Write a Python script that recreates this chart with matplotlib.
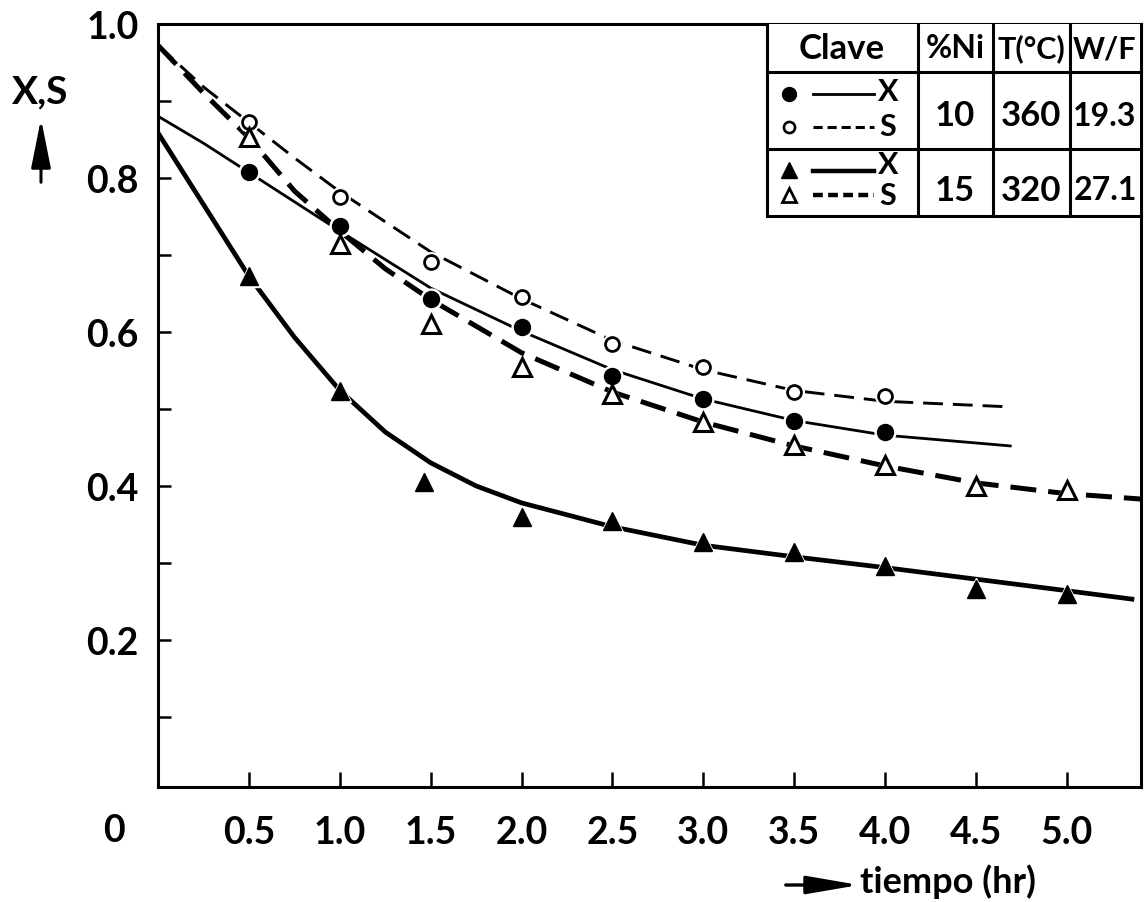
import matplotlib
matplotlib.use("Agg")
import matplotlib.pyplot as plt
from matplotlib.lines import Line2D
from matplotlib.patches import FancyArrowPatch, ArrowStyle, Rectangle

plt.rcParams['font.family'] = ['Lato', 'DejaVu Sans']
plt.rcParams['font.weight'] = 'bold'

# ---------------- data ----------------
# measured points
t_circ = [0.5, 1.0, 1.5, 2.0, 2.5, 3.0, 3.5, 4.0]
x_10 = [0.808, 0.738, 0.643, 0.606, 0.543, 0.513, 0.484, 0.470]   # filled circles (X)
s_10 = [0.873, 0.775, 0.691, 0.645, 0.584, 0.555, 0.522, 0.517]   # open circles (S)

t_ftri = [0.5, 1.0, 1.46, 2.0, 2.5, 3.0, 3.5, 4.0, 4.5, 5.0]
x_15 = [0.673, 0.523, 0.405, 0.360, 0.355, 0.327, 0.314, 0.296, 0.266, 0.260]  # filled triangles (X)
t_otri = [0.5, 1.0, 1.5, 2.0, 2.5, 3.0, 3.5, 4.0, 4.5, 5.0]
s_15 = [0.853, 0.714, 0.610, 0.555, 0.519, 0.483, 0.453, 0.427, 0.400, 0.395]  # open triangles (S)

# fitted curves
ct_s10 = [0, 0.25, 0.5, 0.75, 1.0, 1.5, 2.0, 2.5, 3.0, 3.5, 4.0, 4.66]
cy_s10 = [0.972, 0.918, 0.872, 0.826, 0.782, 0.704, 0.643, 0.589, 0.551, 0.524, 0.510, 0.503]

ct_x10 = [0, 0.25, 0.5, 0.75, 1.0, 1.5, 2.0, 2.5, 3.0, 3.5, 4.0, 4.69]
cy_x10 = [0.880, 0.845, 0.807, 0.769, 0.731, 0.657, 0.601, 0.551, 0.513, 0.485, 0.466, 0.452]

ct_s15 = [0, 0.25, 0.5, 0.75, 1.0, 1.25, 1.5, 2.0, 2.5, 3.0, 3.5, 4.0, 4.5, 5.0, 5.41]
cy_s15 = [0.972, 0.910, 0.852, 0.783, 0.731, 0.682, 0.642, 0.573, 0.522, 0.483, 0.452, 0.426, 0.404, 0.390, 0.383]

ct_x15 = [0, 0.25, 0.5, 0.75, 1.0, 1.25, 1.5, 1.75, 2.0, 2.5, 3.0, 3.5, 4.0, 4.5, 5.0, 5.36]
cy_x15 = [0.858, 0.765, 0.672, 0.593, 0.524, 0.470, 0.430, 0.400, 0.378, 0.347, 0.323, 0.308, 0.294, 0.279, 0.264, 0.253]

xtick_vals = [0.5, 1.0, 1.5, 2.0, 2.5, 3.0, 3.5, 4.0, 4.5, 5.0]
xtick_labels = ['0.5', '1.0', '1.5', '2.0', '2.5', '3.0', '3.5', '4.0', '4.5', '5.0']
ytick_vals = [0.2, 0.4, 0.6, 0.8, 1.0]
ytick_labels = ['0.2', '0.4', '0.6', '0.8', '1.0']
yminor_vals = [0.1, 0.3, 0.5, 0.7, 0.9]

table_header = ['Clave', '%Ni', 'T(°C)', 'W/F']
row_ni = ['10', '15']
row_T = ['360', '320']
row_WF = ['19.3', '27.1']

# ---------------- figure ----------------
W, H = 1146, 903
fig = plt.figure(figsize=(W / 100, H / 100), dpi=100)
L, R, B, T = 158.3, 1141, 788, 25
ax = fig.add_axes([L / W, 1 - B / H, (R - L) / W, (B - T) / H])
ax.set_xlim(0, 5.41)
ax.set_ylim(0.009, 1.0)

for sp in ax.spines.values():
    sp.set_linewidth(2.2)

ax.set_xticks(xtick_vals)
ax.set_xticklabels(xtick_labels, fontsize=27, fontweight='bold')
ax.set_yticks(ytick_vals)
ax.set_yticklabels(ytick_labels, fontsize=27, fontweight='bold')
ax.set_yticks(yminor_vals, minor=True)
ax.tick_params(axis='x', direction='in', length=11, width=1.8, pad=20)
ax.tick_params(axis='y', which='both', direction='in', length=9.5, width=1.8, pad=14)
ax.tick_params(axis='x', which='minor', length=0)

def px(x):
    return (x - L) / (R - L)

def py(y):
    return (B - y) / (B - T)

# curves
ax.plot(ct_s10, cy_s10, color='black', lw=2.1, dashes=(6.8, 3.4), dash_capstyle='butt', zorder=2)
ax.plot(ct_x10, cy_x10, color='black', lw=2.0, zorder=2)
ax.plot(ct_s15, cy_s15, color='black', lw=3.6, dashes=(5.2, 2.4), dash_capstyle='butt', zorder=2)
ax.plot(ct_x15, cy_x15, color='black', lw=3.4, zorder=2)

# white halos around markers (gaps in curves)
ax.plot(t_circ, s_10, 'o', ms=14, color='white', zorder=3)
ax.plot(t_circ, x_10, 'o', ms=15, color='white', zorder=3)
ax.plot(t_ftri, x_15, '^', ms=16, color='white', zorder=3)
ax.plot(t_otri, s_15, '^', ms=16, color='white', zorder=3)

# markers
ax.plot(t_circ, s_10, 'o', ms=10, mfc='white', mec='black', mew=2.0, zorder=4)
ax.plot(t_circ, x_10, 'o', ms=11.5, color='black', zorder=4)
ax.plot(t_ftri, x_15, '^', ms=13, color='black', zorder=4)
ax.plot(t_otri, s_15, '^', ms=12.5, mfc='white', mec='black', mew=2.2, zorder=4)

# origin label "0"
ax.text(px(114), py(831), '0', transform=ax.transAxes, fontsize=27, fontweight='bold',
        ha='center', va='center', clip_on=False)

# ---------------- legend table ----------------
tr = ax.transAxes
lw_t = 2.2
xl, xc1, xc2, xc3, xr = px(767), px(918), px(993), px(1070), 1.0
yt, yh, y1, yb = 1.0, py(73), py(150), py(217)

def seg(x0, y0, x1, y1_, lw=lw_t):
    ax.add_line(Line2D([x0, x1], [y0, y1_], transform=tr, color='black', lw=lw,
                       clip_on=False, zorder=5, solid_capstyle='projecting'))

ax.add_patch(Rectangle((xl, yb), xr - xl, yt - yb, transform=tr, facecolor='white',
                       edgecolor='none', zorder=4.5, clip_on=False))
seg(xl, yt, xl, yb)
seg(xl, yb, xr, yb)
seg(xl, yh, xr, yh)
seg(xl, y1, xr, y1)
for xx in (xc1, xc2, xc3):
    seg(xx, yt, xx, yb)
seg(xr, yt, xr, yb)

col_c = [px(842), px(955), px(1031), px(1105)]
head_sizes = [25, 23, 22, 22]
for c, txt, fs in zip(col_c, table_header, head_sizes):
    ax.text(c, py(49), txt, transform=tr, fontsize=fs, fontweight='bold',
            ha='center', va='center', zorder=6)
for ri, yy in enumerate([py(116), py(191)]):
    ax.text(col_c[1], yy, row_ni[ri], transform=tr, fontsize=25, fontweight='bold', ha='center', va='center', zorder=6)
    ax.text(col_c[2], yy, row_T[ri], transform=tr, fontsize=25, fontweight='bold', ha='center', va='center', zorder=6)
    ax.text(col_c[3], yy, row_WF[ri], transform=tr, fontsize=23, fontweight='bold', ha='center', va='center', zorder=6)

# clave symbols
mx = px(789)
lx0, lx1 = px(813), px(874)
ax.add_line(Line2D([mx], [py(95)], transform=tr, marker='o', ms=10, color='black', ls='none', clip_on=False, zorder=6))
ax.add_line(Line2D([lx0, lx1], [py(95), py(95)], transform=tr, color='black', lw=2.0, clip_on=False, zorder=6))
ax.add_line(Line2D([mx], [py(128)], transform=tr, marker='o', ms=8, mfc='white', mec='black', mew=1.9, ls='none', clip_on=False, zorder=6))
ax.add_line(Line2D([lx0, lx1], [py(128), py(128)], transform=tr, color='black', lw=2.2, dashes=(3.0, 1.6), clip_on=False, zorder=6))
ax.add_line(Line2D([mx], [py(171)], transform=tr, marker='^', ms=11, color='black', ls='none', clip_on=False, zorder=6))
ax.add_line(Line2D([lx0, lx1], [py(172), py(172)], transform=tr, color='black', lw=3.2, clip_on=False, zorder=6))
ax.add_line(Line2D([mx], [py(196)], transform=tr, marker='^', ms=10, mfc='white', mec='black', mew=2.0, ls='none', clip_on=False, zorder=6))
ax.add_line(Line2D([lx0, lx1], [py(196), py(196)], transform=tr, color='black', lw=3.2, dashes=(2.2, 1.2), clip_on=False, zorder=6))
for yy, s in [(92, 'X'), (127, 'S'), (165, 'X'), (196, 'S')]:
    ax.text(px(888), py(yy), s, transform=tr, fontsize=22, fontweight='bold', ha='center', va='center', zorder=6)

# ---------------- axis labels with arrows ----------------
fig.text(12 / W, 1 - 103 / H, 'X,S', fontsize=28, fontweight='bold', ha='left', va='baseline')
fig.patches.append(FancyArrowPatch((41 / W, 1 - 186 / H), (41 / W, 1 - 117 / H), transform=fig.transFigure,
                                   arrowstyle=ArrowStyle('-|>', head_length=30, head_width=6),
                                   mutation_scale=1, color='black', lw=2.2))
fig.text(860 / W, 1 - 893 / H, 'tiempo (hr)', fontsize=26, fontweight='bold', ha='left', va='baseline')
fig.patches.append(FancyArrowPatch((783 / W, 1 - 886 / H), (862 / W, 1 - 886 / H), transform=fig.transFigure,
                                   arrowstyle=ArrowStyle('-|>', head_length=32, head_width=5.5),
                                   mutation_scale=1, color='black', lw=2.4))

fig.savefig('out.png', dpi=100)
